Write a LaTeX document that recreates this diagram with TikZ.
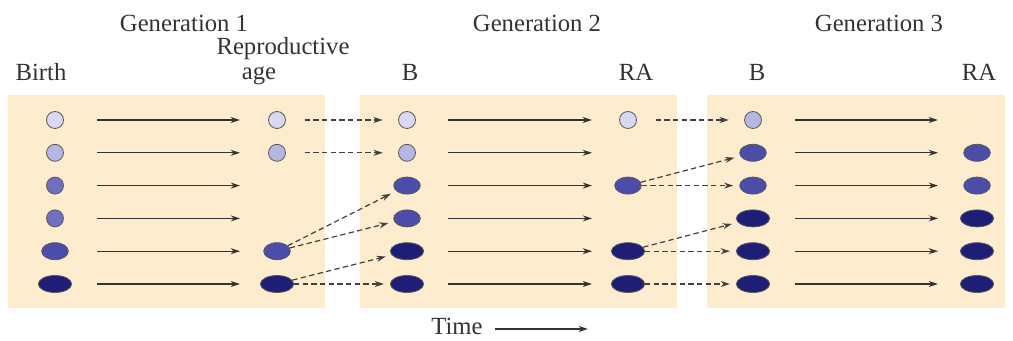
\documentclass[tikz,border=0pt]{standalone}
\usepackage{fontspec}
\setmainfont{Liberation Serif}
\usetikzlibrary{arrows.meta,calc,positioning,shapes.geometric}
\definecolor{panel}{RGB}{253,236,205}
\definecolor{popA}{RGB}{216,216,240}
\definecolor{popB}{RGB}{182,182,226}
\definecolor{popC}{RGB}{112,112,192}
\definecolor{popD}{RGB}{76,76,170}
\definecolor{popE}{RGB}{30,30,118}
\tikzset{
	generations/.style={
		x=0.75pt, y=-0.75pt,
		font=\fontsize{18.5}{21}\selectfont,
		every node/.style={text=black!80}},
	pop/.style={draw=black!65, line width=0.6pt, inner sep=0pt, minimum height=12.75pt},
	circA/.style={pop, circle, minimum size=12.75pt, fill=popA},
	circB/.style={pop, circle, minimum size=12.75pt, fill=popB},
	circC/.style={pop, circle, minimum size=12.75pt, fill=popC},
	ellD/.style={pop, ellipse, minimum width=20pt, fill=popD},
	ellE/.style={pop, ellipse, minimum width=25pt, fill=popE},
	ageline/.style={-{Stealth[length=7pt,width=4.5pt]}, line width=0.9pt, draw=black!80},
	passline/.style={-{Stealth[length=7pt,width=4.5pt]}, line width=0.9pt, draw=black!75,
		dash pattern=on 4pt off 2.5pt, shorten >=4.5pt},
	from circ/.style={shorten <=14pt},
	to circ/.style={shorten >=11.5pt},
	lbl/.style={anchor=base}
}

\begin{document}
\begin{tikzpicture}[generations]
	\useasboundingbox (0,0) rectangle (1013,341);
	% panels
	\fill[panel] (8,95) rectangle (325,308);
	\fill[panel] (360,95) rectangle (677,308);
	\fill[panel] (707,95) rectangle (1005,308);
	% headings
	\node[lbl] (gen1) at (184,32) {Generation 1};
	\node[lbl] (gen2) at (537,32) {Generation 2};
	\node[lbl] (gen3) at (879,32) {Generation 3};
	\node[lbl] (birth) at (41,81) {Birth};
	\node[lbl] (repro) at (283,55) {Reproductive};
	\node[lbl] (age) at (259,80) {age};
	\node[lbl] (B2) at (410,81) {B};
	\node[lbl] (RA2) at (636,81) {RA};
	\node[lbl] (B3) at (757,81) {B};
	\node[lbl] (RA3) at (979,81) {RA};
	% individuals
	\foreach \r/\s in {1/circA,2/circB,3/circC,4/circC,5/ellD,6/ellE}
		\node[\s] (b1-\r) at (55,{120+32.8*(\r-1)}) {};
	\foreach \r/\s in {1/circA,2/circB,5/ellD,6/ellE}
		\node[\s] (ra1-\r) at (277,{120+32.8*(\r-1)}) {};
	\foreach \r/\s in {1/circA,2/circB,3/ellD,4/ellD,5/ellE,6/ellE}
		\node[\s] (b2-\r) at (407,{120+32.8*(\r-1)}) {};
	\foreach \r/\s in {1/circA,3/ellD,5/ellE,6/ellE}
		\node[\s] (ra2-\r) at (628,{120+32.8*(\r-1)}) {};
	\foreach \r/\s in {1/circB,2/ellD,3/ellD,4/ellE,5/ellE,6/ellE}
		\node[\s] (b3-\r) at (753,{120+32.8*(\r-1)}) {};
	\foreach \r/\s in {2/ellD,3/ellD,4/ellE,5/ellE,6/ellE}
		\node[\s] (ra3-\r) at (977,{120+32.8*(\r-1)}) {};
	% ageing
	\foreach \g/\xs/\xe in {1/97/240,2/448/592,3/795/938}
		\foreach \r in {1,...,6} {
			\coordinate (s\g-\r) at (\xs,{120+32.8*(\r-1)});
			\coordinate (e\g-\r) at (\xe,{120+32.8*(\r-1)});
			\draw[ageline] (s\g-\r) -- (e\g-\r);
		}
	% offspring
	\draw[passline,from circ,to circ] (ra1-1) -- (b2-1);
	\draw[passline,from circ,to circ] (ra1-2) -- (b2-2);
	\draw[passline] (ra1-5) -- (b2-3);
	\draw[passline] (ra1-5) -- (b2-4);
	\draw[passline] (ra1-6) -- (b2-5);
	\draw[passline] (ra1-6) -- (b2-6);
	\draw[passline,from circ,to circ] (ra2-1) -- (b3-1);
	\draw[passline] (ra2-3) -- (b3-2);
	\draw[passline] (ra2-3) -- (b3-3);
	\draw[passline] (ra2-5) -- (b3-4);
	\draw[passline] (ra2-5) -- (b3-5);
	\draw[passline] (ra2-6) -- (b3-6);
	% time axis
	\node[lbl] (time) at (457,335) {Time};
	\coordinate (t0) at (495,329);
	\coordinate (t1) at (588,329);
	\draw[ageline] (t0) -- (t1);
\end{tikzpicture}
\end{document}
